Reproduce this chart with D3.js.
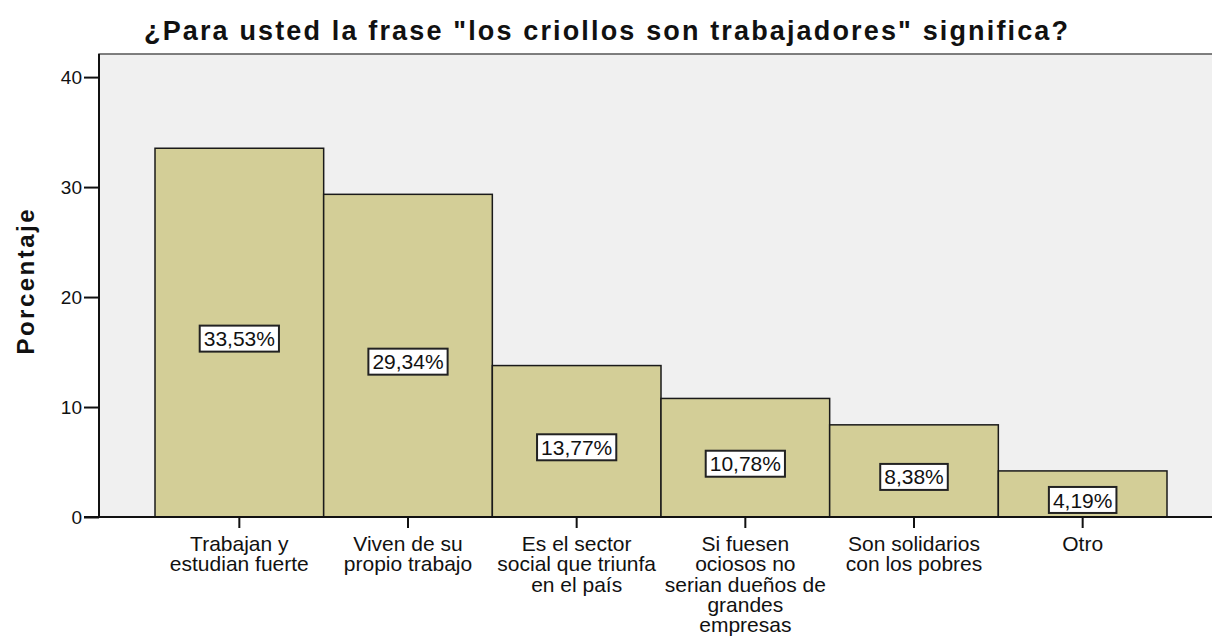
<!DOCTYPE html>
<html>
<head>
<meta charset="utf-8">
<script src="https://cdn.jsdelivr.net/npm/d3@7"></script>
<style>
  body { margin: 0; background: #fff; }
  text { font-family: "Liberation Sans", Arial, sans-serif; }
</style>
</head>
<body>
<script>
// data
var categories = ["Trabajan y estudian fuerte", "Viven de su propio trabajo", "Es el sector social que triunfa en el país",
                  "Si fuesen ociosos no serian dueños de grandes empresas", "Son solidarios con los pobres", "Otro"];
var catLines = [
  ["Trabajan y", "estudian fuerte"],
  ["Viven de su", "propio trabajo"],
  ["Es el sector", "social que triunfa", "en el país"],
  ["Si fuesen", "ociosos no", "serian dueños de", "grandes", "empresas"],
  ["Son solidarios", "con los pobres"],
  ["Otro"]
];
var percents = [33.53, 29.34, 13.77, 10.78, 8.38, 4.19];
var pctLabels = ["33,53%", "29,34%", "13,77%", "10,78%", "8,38%", "4,19%"];
var yTicks = [0, 10, 20, 30, 40];

var W = 1212, H = 641;
var plotLeft = 99, plotTop = 54, plotBottom = 517, plotRight = 1214;

var svg = d3.select("body").append("svg")
    .attr("width", W)
    .attr("height", H);

var x = d3.scaleBand()
    .domain(categories)
    .range([155, 1167])
    .padding(0);

var y = d3.scaleLinear()
    .domain([0, 42.1])
    .range([plotBottom, plotTop]);

// plot background
svg.append("rect")
    .attr("x", plotLeft)
    .attr("y", plotTop)
    .attr("width", plotRight - plotLeft)
    .attr("height", plotBottom - plotTop)
    .style("fill", "#f0f0f0")
    .style("stroke", "#555")
    .style("stroke-width", 1.5);

// bars
svg.selectAll(".bar")
    .data(percents)
    .enter().append("rect")
    .attr("class", "bar")
    .attr("x", function(d, i) { return x(categories[i]); })
    .attr("y", function(d) { return y(d); })
    .attr("width", x.bandwidth())
    .attr("height", function(d) { return y(0) - y(d); })
    .style("fill", "#d3ce97")
    .style("stroke", "#1a1a1a")
    .style("stroke-width", 1.5);

// axes
var yAxis = d3.axisLeft(y)
    .tickValues(yTicks)
    .tickSize(15)
    .tickPadding(2);

var gy = svg.append("g")
    .attr("transform", "translate(" + plotLeft + ",0)")
    .call(yAxis);
gy.select(".domain").remove();
gy.append("line")
    .attr("x1", 0).attr("x2", 0)
    .attr("y1", plotTop).attr("y2", plotBottom)
    .style("stroke", "#111")
    .style("stroke-width", 2);
gy.selectAll(".tick line").style("stroke", "#111").style("stroke-width", 2);
gy.selectAll(".tick text")
    .style("font-size", "19px")
    .style("fill", "#111");

var xAxis = d3.axisBottom(x)
    .tickSize(11)
    .tickFormat("");

var gx = svg.append("g")
    .attr("transform", "translate(0," + plotBottom + ")")
    .call(xAxis);
gx.select(".domain").remove();
gx.append("line")
    .attr("x1", plotLeft - 15).attr("x2", plotRight)
    .attr("y1", 0).attr("y2", 0)
    .style("stroke", "#111")
    .style("stroke-width", 2);
gx.selectAll(".tick line").style("stroke", "#111").style("stroke-width", 2);

// category labels (multi-line)
var catText = svg.selectAll(".cat")
    .data(catLines)
    .enter().append("text")
    .attr("class", "cat")
    .attr("text-anchor", "middle")
    .style("font-size", "21px")
    .style("fill", "#111");
catText.selectAll("tspan")
    .data(function(d, i) { return d.map(function(l) { return {line: l, cat: categories[i]}; }); })
    .enter().append("tspan")
    .attr("x", function(d) { return x(d.cat) + x.bandwidth() / 2; })
    .attr("y", function(d, j) { return 551 + j * 20.3; })
    .text(function(d) { return d.line; });

// value labels in boxes
var lab = svg.selectAll(".lab")
    .data(percents)
    .enter().append("g")
    .attr("class", "lab")
    .attr("transform", function(d, i) {
        return "translate(" + (x(categories[i]) + x.bandwidth() / 2) + "," + ((y(d) + y(0)) / 2 + 6) + ")";
    });
lab.append("text")
    .attr("text-anchor", "middle")
    .attr("dy", "0.36em")
    .style("font-size", "21px")
    .style("fill", "#111")
    .text(function(d, i) { return pctLabels[i]; });
lab.each(function() {
    var g = d3.select(this);
    var bb = g.select("text").node().getBBox();
    g.insert("rect", "text")
        .attr("x", bb.x - 4)
        .attr("y", -13)
        .attr("width", bb.width + 8)
        .attr("height", 26)
        .style("fill", "#fff")
        .style("stroke", "#222")
        .style("stroke-width", 2);
});

// title
svg.append("text")
    .attr("x", 144)
    .attr("y", 40)
    .attr("textLength", 924)
    .attr("lengthAdjust", "spacing")
    .style("font-size", "27px")
    .style("font-weight", "bold")
    .style("fill", "#111")
    .text("¿Para usted la frase \"los criollos son trabajadores\" significa?");

// y axis title
svg.append("text")
    .attr("transform", "translate(34,282) rotate(-90)")
    .attr("text-anchor", "middle")
    .attr("textLength", 145)
    .attr("lengthAdjust", "spacing")
    .style("font-size", "24px")
    .style("font-weight", "bold")
    .style("fill", "#111")
    .text("Porcentaje");
</script>
</body>
</html>
